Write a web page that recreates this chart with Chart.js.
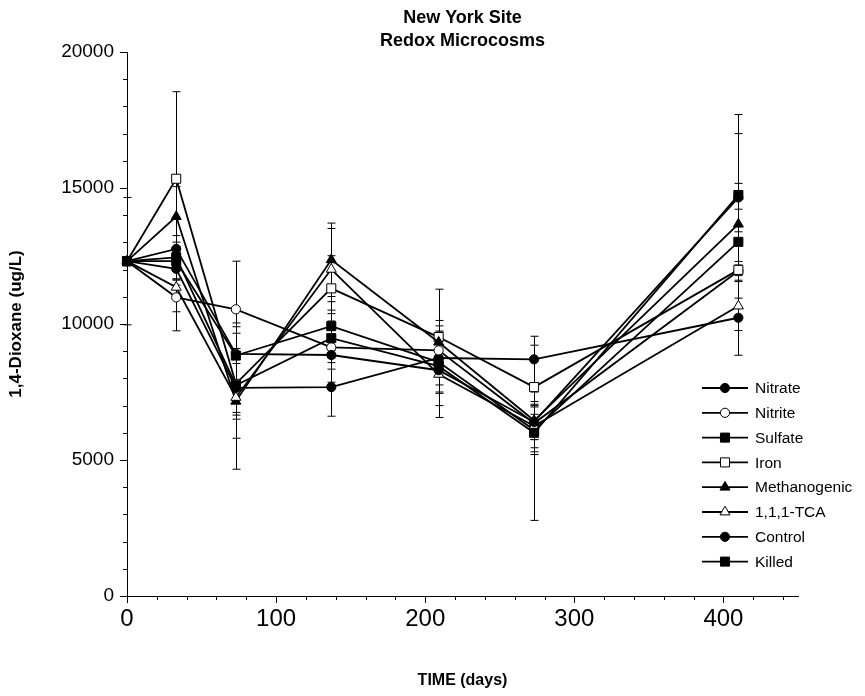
<!DOCTYPE html>
<html lang="en">
<head>
<meta charset="UTF-8" />
<title>New York Site - Redox Microcosms</title>
<script src="https://cdn.jsdelivr.net/npm/chart.js"></script>
<style>
  body { margin: 0; background: #fff; }
</style>
</head>
<body>
<canvas id="redoxChart" width="865" height="696"></canvas>

<script>
  // sampling days
  const days = [0, 33, 73, 137, 209, 273, 410];

  const seriesNames = ['Nitrate', 'Nitrite', 'Sulfate', 'Iron', 'Methanogenic', '1,1,1-TCA', 'Control', 'Killed'];

  // 1,4-dioxane, ug/L
  const nitrate      = [12310, 12030, 7650, 7680, 8750, 8700, 10230];
  const nitrite      = [12310, 10980, 10540, 9140, 9030, 6350, 11950];
  const sulfate      = [12310, 12310, 8840, 9920, 8600, 6100, 13020];
  const iron         = [12310, 15340, 7800, 11310, 9520, 7680, 11990];
  const methanogenic = [12310, 13950, 7160, 12360, 9330, 6450, 13670];
  const tca          = [12310, 11350, 7300, 12010, 8150, 6250, 10660];
  const control      = [12310, 12760, 8900, 8860, 8300, 6400, 14650];
  const killed       = [12310, 12450, 7750, 9480, 8450, 6000, 14740];

  // +/- error, ug/L
  const nitrateErr      = [0, 600, 900, 1070, 700, 850, 1380];
  const nitriteErr      = [0, 1230, 1770, 800, 900, 600, 1000];
  const sulfateErr      = [0, 700, 1200, 900, 1100, 900, 1200];
  const ironErr         = [0, 3200, 1300, 1200, 1760, 1000, 1400];
  const methanogenicErr = [0, 1100, 2500, 1350, 800, 700, 1500];
  const tcaErr          = [0, 900, 1500, 1500, 1590, 800, 900];
  const controlErr      = [0, 1100, 1000, 1000, 1300, 1100, 2350];
  const killedErr       = [2340, 800, 1100, 900, 1000, 3220, 2960];

  const xTicks = [0, 100, 200, 300, 400];
  const yTicks = [0, 5000, 10000, 15000, 20000];

  const values = [nitrate, nitrite, sulfate, iron, methanogenic, tca, control, killed];
  const errors = [nitrateErr, nitriteErr, sulfateErr, ironErr, methanogenicErr, tcaErr, controlErr, killedErr];

  // marker look per series
  const shapes = ['circle', 'circle', 'rect', 'rect', 'triangle', 'triangle', 'circle', 'rect'];
  const solid  = [true, false, true, false, true, false, true, true];
  const radius = { circle: 4.6, rect: 6.4, triangle: 5.8 };

  const FONT = "'Liberation Sans', Arial, Helvetica, sans-serif";

  function marker(ctx, shape, x, y, filled) {
    const r = radius[shape];
    ctx.beginPath();
    if (shape === 'circle') {
      ctx.arc(x, y, r, 0, Math.PI * 2);
    } else if (shape === 'rect') {
      const s = r * Math.SQRT1_2;
      ctx.rect(x - s, y - s, 2 * s, 2 * s);
    } else {
      for (let k = 0; k < 3; k++) {
        const a = k * 2 * Math.PI / 3;
        const px = x + Math.sin(a) * r, py = y - Math.cos(a) * r;
        k ? ctx.lineTo(px, py) : ctx.moveTo(px, py);
      }
      ctx.closePath();
    }
    ctx.fillStyle = filled ? '#000' : '#fff';
    ctx.fill();
    ctx.lineWidth = 1;
    ctx.strokeStyle = '#000';
    ctx.stroke();
  }

  const errorBars = {
    id: 'errorBars',
    beforeDatasetsDraw(chart) {
      const { ctx, scales: { x, y } } = chart;
      ctx.save();
      ctx.strokeStyle = '#000';
      ctx.lineWidth = 1;
      ctx.beginPath();
      chart.data.datasets.forEach(ds => {
        ds.data.forEach((p, i) => {
          const e = ds.errors[i];
          if (!e) return;
          const px = Math.round(x.getPixelForValue(p.x)) + 0.5;
          const top = y.getPixelForValue(p.y + e);
          const bot = y.getPixelForValue(p.y - e);
          ctx.moveTo(px, top); ctx.lineTo(px, bot);
          ctx.moveTo(px - 4, top); ctx.lineTo(px + 4, top);
          ctx.moveTo(px - 4, bot); ctx.lineTo(px + 4, bot);
        });
      });
      ctx.stroke();
      ctx.restore();
    }
  };

  const minorTicks = {
    id: 'minorTicks',
    afterDraw(chart) {
      const { ctx, scales: { x, y } } = chart;
      ctx.save();
      ctx.strokeStyle = '#000';
      ctx.lineWidth = 1;
      ctx.beginPath();
      for (let v = 20; v < 450; v += 20) {
        if (v % 100 === 0) continue;
        const px = Math.round(x.getPixelForValue(v)) + 0.5;
        ctx.moveTo(px, y.bottom);
        ctx.lineTo(px, y.bottom + 4);
      }
      for (let v = 1000; v < 20000; v += 1000) {
        if (v % 5000 === 0) continue;
        const py = Math.round(y.getPixelForValue(v)) + 0.5;
        ctx.moveTo(x.left, py);
        ctx.lineTo(x.left - 4, py);
      }
      ctx.stroke();
      ctx.restore();
    }
  };

  const boxLegend = {
    id: 'boxLegend',
    afterDraw(chart) {
      const ctx = chart.ctx;
      ctx.save();
      ctx.font = '15.5px ' + FONT;
      ctx.textBaseline = 'middle';
      ctx.textAlign = 'left';
      chart.data.datasets.forEach((ds, i) => {
        const yy = 388 + i * 24.8;
        ctx.strokeStyle = '#000';
        ctx.lineWidth = 1.8;
        ctx.beginPath();
        ctx.moveTo(702, yy);
        ctx.lineTo(748, yy);
        ctx.stroke();
        marker(ctx, shapes[i], 725, yy, solid[i]);
        ctx.fillStyle = '#000';
        ctx.fillText(ds.label, 755, yy + 1);
      });
      ctx.restore();
    }
  };

  const datasets = seriesNames.map((name, i) => ({
    label: name,
    data: days.map((d, j) => ({ x: d, y: values[i][j] })),
    errors: errors[i],
    showLine: true,
    borderColor: '#000',
    borderWidth: 1.8,
    pointStyle: shapes[i],
    pointRadius: radius[shapes[i]],
    pointBackgroundColor: solid[i] ? '#000' : '#fff',
    pointBorderColor: '#000',
    pointBorderWidth: 1,
    clip: false,
    order: seriesNames.length - i
  }));

  new Chart(document.getElementById('redoxChart'), {
    type: 'scatter',
    data: { datasets },
    options: {
      responsive: false,
      animation: false,
      events: [],
      layout: { padding: { left: 0, right: 67, top: 0, bottom: 0 } },
      plugins: {
        legend: { display: false },
        tooltip: { enabled: false },
        title: {
          display: true,
          text: ['New York Site', 'Redox Microcosms'],
          fullSize: false,
          color: '#000',
          font: { family: FONT, size: 18, weight: 'bold', lineHeight: 1.25 },
          padding: { top: 7, bottom: 0 }
        }
      },
      scales: {
        x: {
          type: 'linear',
          min: 0,
          max: 450,
          afterBuildTicks: s => { s.ticks = xTicks.map(v => ({ value: v })); },
          afterFit: s => { s.height = 100; },
          ticks: { color: '#000', font: { family: FONT, size: 24 }, padding: 2, maxRotation: 0 },
          grid: { drawOnChartArea: false, tickLength: 7, color: '#000' },
          border: { color: '#000', width: 1 },
          title: {
            display: true,
            text: 'TIME (days)',
            color: '#000',
            font: { family: FONT, size: 16, weight: 'bold' },
            padding: { bottom: 6 }
          }
        },
        y: {
          min: 0,
          max: 20000,
          afterBuildTicks: s => { s.ticks = yTicks.map(v => ({ value: v })); },
          afterFit: s => { s.width = 127; },
          ticks: { color: '#000', font: { family: FONT, size: 19 }, padding: 6, callback: v => String(v) },
          grid: { drawOnChartArea: false, tickLength: 7, color: '#000' },
          border: { color: '#000', width: 1 },
          title: {
            display: true,
            text: '1,4-Dioxane (ug/L)',
            color: '#000',
            font: { family: FONT, size: 17, weight: 'bold' },
            padding: { top: 6 }
          }
        }
      }
    },
    plugins: [errorBars, minorTicks, boxLegend]
  });
</script>
</body>
</html>
